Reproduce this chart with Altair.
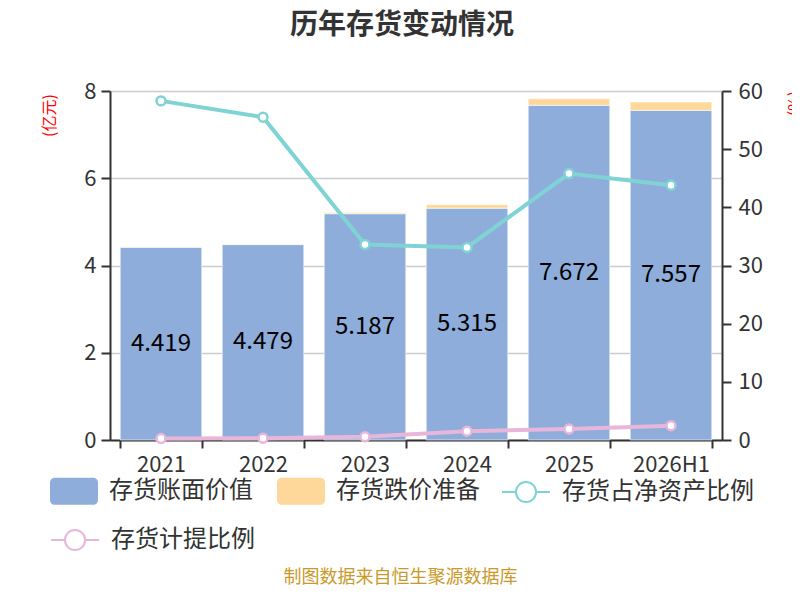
import altair as alt
import pandas as pd

years = ["2021", "2022", "2023", "2024", "2025", "2026H1"]
book_value = [4.419, 4.479, 5.187, 5.315, 7.672, 7.557]
impairment = [0.01, 0.01, 0.03, 0.08, 0.15, 0.19]
net_asset_ratio = [58.3, 55.5, 33.6, 33.1, 45.8, 43.8]
provision_ratio = [0.25, 0.3, 0.55, 1.5, 1.9, 2.45]

bar_names = ["存货账面价值", "存货跌价准备"]
bar_colors = ["#8EADDA", "#FED89B"]
teal_name, teal_color = "存货占净资产比例", "#80D3D5"
pink_name, pink_color = "存货计提比例", "#E8B6DA"

bars_df = pd.DataFrame({
    "year": years * 2,
    "series": [bar_names[0]] * 6 + [bar_names[1]] * 6,
    "value": book_value + impairment,
    "order": [0] * 6 + [1] * 6,
})
labels_df = pd.DataFrame({"year": years, "value": book_value})
teal_df = pd.DataFrame({"year": years, "series": [teal_name] * 6, "value": net_asset_ratio})
pink_df = pd.DataFrame({"year": years, "series": [pink_name] * 6, "value": provision_ratio})

FONT = "Noto Sans CJK SC"
TXT = "#333333"

BAR_PATH = ("M-0.8,-0.56H0.8A0.2,0.2 0 0 1 1,-0.36V0.36A0.2,0.2 0 0 1 0.8,0.56"
            "H-0.8A0.2,0.2 0 0 1 -1,0.36V-0.36A0.2,0.2 0 0 1 -0.8,-0.56Z")
LINE_PATH = ("M-1,0H-0.42M0.42,0H1M-0.42,0A0.42,0.42 0 1,1 0.42,0"
             "A0.42,0.42 0 1,1 -0.42,0Z")

legend_common = dict(
    title=None, orient="none", direction="horizontal",
    symbolSize=2304, labelFontSize=24, labelFont=FONT, labelColor=TXT,
    labelOffset=11, labelLimit=400,
)

x_enc = alt.X(
    "year:N", sort=years,
    scale=alt.Scale(paddingInner=0.2, paddingOuter=0.1),
    axis=alt.Axis(
        title="制图数据来自恒生聚源数据库", titleColor="#C9992B", titleFontSize=18,
        titleFont=FONT, titleFontWeight="normal", titleX=290, titleY=137,
        titleAlign="center", titleBaseline="middle",
        labelAngle=0, labelFontSize=22, labelFont=FONT, labelColor=TXT,
        labelPadding=6, tickBand="extent", tickSize=8, tickColor=TXT,
        domainColor=TXT, tickWidth=2, domainWidth=2, grid=False,
    ),
)

left_axis = alt.Axis(
    values=[0, 2, 4, 6, 8], grid=True, gridColor="#cccccc", gridWidth=1.5,
    domainColor=TXT, tickColor=TXT, tickSize=9, tickWidth=2, domainWidth=2,
    labelFontSize=22, labelFont=FONT, labelColor=TXT, labelPadding=5,
    title="(亿元)", titleColor="#ff0000", titleFontSize=16, titleFont=FONT,
    titleFontWeight="normal", titleX=-61, titleY=24, titleAlign="center",
    titleBaseline="middle", titleAngle=-90,
)

right_axis = alt.Axis(
    orient="right", values=[0, 10, 20, 30, 40, 50, 60], grid=False,
    domainColor=TXT, tickColor=TXT, tickSize=9, tickWidth=2, domainWidth=2,
    labelFontSize=22, labelFont=FONT, labelColor=TXT, labelPadding=7,
    title="(%)", titleColor="#ff0000", titleFontSize=16, titleFont=FONT,
    titleFontWeight="normal", titleX=72, titleY=12, titleAlign="center",
    titleBaseline="middle", titleAngle=-90,
)

bars = alt.Chart(bars_df).mark_bar(stroke="#ffffff", strokeWidth=1, strokeOpacity=0.6).encode(
    x=x_enc,
    y=alt.Y("value:Q", stack="zero", scale=alt.Scale(domain=[0, 8]), axis=left_axis),
    fill=alt.Fill(
        "series:N", scale=alt.Scale(domain=bar_names, range=bar_colors),
        legend=alt.Legend(legendX=-60, legendY=376, columnPadding=23,
                          symbolType=BAR_PATH, symbolStrokeWidth=0, symbolOpacity=1,
                          **legend_common),
    ),
    order=alt.Order("order:Q", sort="ascending"),
)

labels = alt.Chart(labels_df).transform_calculate(
    mid="datum.value / 2"
).mark_text(fontSize=24, font=FONT, color="#000000").encode(
    x=alt.X("year:N", sort=years),
    y=alt.Y("mid:Q", scale=alt.Scale(domain=[0, 8]), axis=left_axis),
    text=alt.Text("value:Q", format=".3f"),
)


def line_layer(df, name, col, lx, ly):
    return alt.Chart(df).mark_line(
        strokeWidth=4,
        point=alt.OverlayMarkDef(filled=False, fill="#ffffff", size=80, strokeWidth=2.5),
    ).encode(
        x=alt.X("year:N", sort=years),
        y=alt.Y("value:Q", scale=alt.Scale(domain=[0, 60]), axis=right_axis),
        stroke=alt.Stroke(
            "series:N", scale=alt.Scale(domain=[name], range=[col]),
            legend=alt.Legend(legendX=lx, legendY=ly, symbolType=LINE_PATH,
                              symbolFillColor="#ffffff", symbolStrokeWidth=2,
                              symbolOpacity=1, **legend_common),
        ),
    )


teal = line_layer(teal_df, teal_name, teal_color, 391, 376)
pink = line_layer(pink_df, pink_name, pink_color, -60, 424)

left = alt.layer(bars, labels)
lines = alt.layer(teal, pink).resolve_scale(stroke="independent")
chart = alt.layer(left, lines).resolve_scale(y="independent").properties(
    width=612, height=349,
    title=alt.TitleParams("历年存货变动情况", fontSize=28, font=FONT, fontWeight="bold",
                          color=TXT, anchor="middle", dx=-14, offset=40),
    autosize=alt.AutoSizeParams(type="none"),
    padding={"left": 102, "top": 83, "right": 70, "bottom": 146},
).configure_view(stroke=None)

chart.save("out.html", embed_options={"renderer": "svg", "actions": False})
